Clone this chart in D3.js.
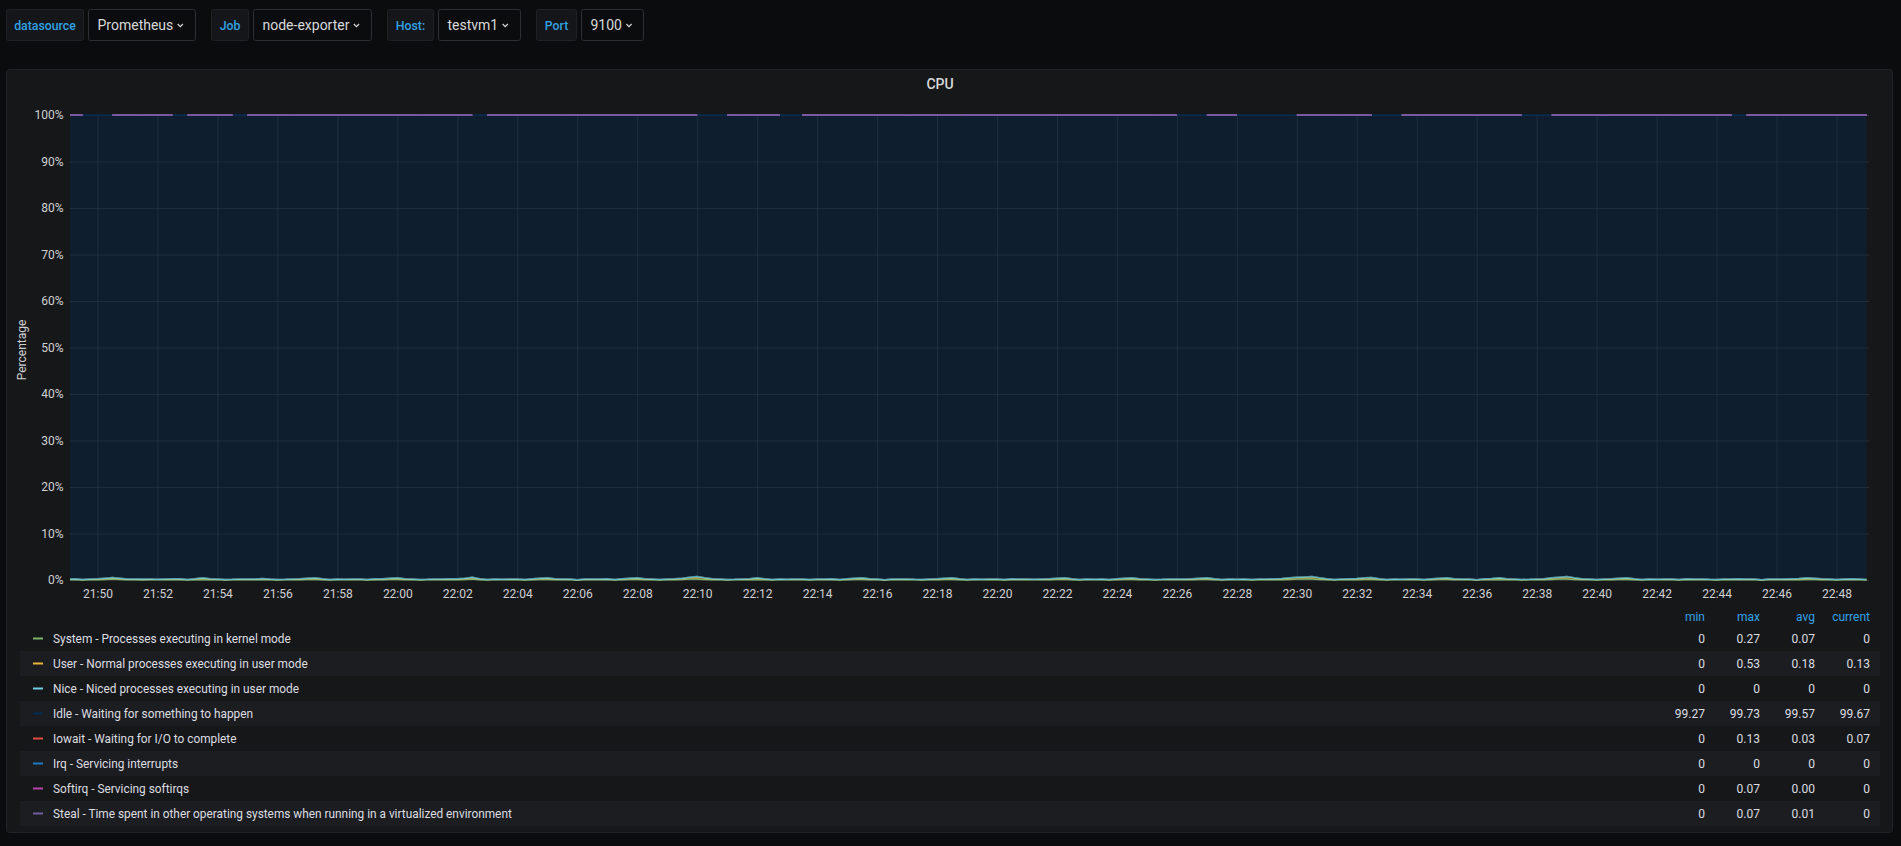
<!DOCTYPE html>
<html><head><meta charset="utf-8">
<script src="https://cdn.jsdelivr.net/npm/d3@7"></script>
<style>
html,body{margin:0;padding:0;background:#0b0c0e;overflow:hidden}
svg{display:block;font-family:Roboto,"Helvetica Neue",Arial,sans-serif}
</style></head><body>
<svg id="c" width="1901" height="846"></svg>
<script>
const n = null;
// ---- data ----
const panelTitle = "CPU";
const yAxisLabel = "Percentage";
const variableLabels = ["datasource", "Job", "Host:", "Port"];
const variableValues = ["Prometheus", "node-exporter", "testvm1", "9100"];
const startTime = "21:49:00";
const stepSeconds = 15;
const rangeStart = "21:49:05";
const rangeEnd = "22:49:05";
const xTickLabels = ["21:50","21:52","21:54","21:56","21:58","22:00","22:02","22:04","22:06","22:08","22:10","22:12","22:14","22:16","22:18","22:20","22:22","22:24","22:26","22:28","22:30","22:32","22:34","22:36","22:38","22:40","22:42","22:44","22:46","22:48"];
const yTicks = [0,10,20,30,40,50,60,70,80,90,100];
const seriesNames = [
  "System - Processes executing in kernel mode",
  "User - Normal processes executing in user mode",
  "Nice - Niced processes executing in user mode",
  "Idle - Waiting for something to happen",
  "Iowait - Waiting for I/O to complete",
  "Irq - Servicing interrupts",
  "Softirq - Servicing softirqs",
  "Steal - Time spent in other operating systems when running in a virtualized environment"
];
const seriesColors = ["#7EB26D","#EAB839","#6ED0E0","#052B51","#E24D42","#1F78C1","#BA43A9","#705DA0"];
const statHeaders = ["min","max","avg","current"];
const statMin = ["0","0","0","99.27","0","0","0","0"];
const statMax = ["0.27","0.53","0","99.73","0.13","0","0.07","0.07"];
const statAvg = ["0.07","0.18","0","99.57","0.03","0","0.00","0.01"];
const statCurrent = ["0","0.13","0","99.67","0.07","0","0","0"];

const system = [
0.07,0.07,0,0.07,0.07,0.13,0.2,0.13,0.07,0.07,0,0.07,0.07,0.07,0.13,0.07,0,0.07,0.13,0.07,
0.07,0,0.07,0.07,0.07,0.07,0.13,0.07,0,0.07,0.07,0.07,0.13,0.13,0.07,0,0.07,0.07,0.07,0.07,
0,0.07,0.07,0.13,0.13,0.07,0.07,0,0.07,0.07,0.07,0.07,0.07,0.13,0.2,0.07,0,0.07,0.07,0.07,
0.07,0,0.07,0.13,0.13,0.07,0.07,0.07,0,0.07,0.07,0.07,0.07,0,0.07,0.13,0.13,0.07,0.07,0,
0.07,0.07,0.13,0.2,0.2,0.13,0.07,0.07,0,0.07,0.07,0.07,0.13,0.07,0,0.07,0.07,0.07,0.07,0,
0.07,0.07,0.07,0,0.07,0.13,0.13,0.07,0.07,0,0.07,0.07,0.07,0.07,0,0.07,0.07,0.13,0.13,0.07,
0,0.07,0.07,0.07,0.07,0,0.07,0.07,0.07,0.07,0.07,0.07,0.13,0.13,0.07,0,0.07,0.07,0.07,0,
0.07,0.13,0.13,0.07,0.07,0,0.07,0.07,0.07,0.07,0.07,0.13,0.13,0.07,0,0.07,0.07,0.07,0,0.07,
0.07,0.07,0.07,0.13,0.2,0.2,0.2,0.13,0.07,0,0.07,0.07,0.07,0.13,0.13,0.07,0,0.07,0.07,0.07,
0.07,0,0.07,0.13,0.13,0.07,0.07,0.07,0,0.07,0.07,0.13,0.07,0.07,0,0.07,0.07,0.07,0.13,0.2,
0.2,0.13,0.07,0.07,0,0.07,0.07,0.13,0.13,0.07,0,0.07,0.07,0.07,0.07,0,0.07,0.07,0.07,0.07,
0,0.07,0.07,0.07,0.07,0.07,0,0.07,0.07,0.07,0.07,0.07,0.13,0.13,0.07,0.07,0,0.07,0.07,0.07,
0];
const user = [
0.13,0.2,0.13,0.13,0.2,0.27,0.33,0.27,0.13,0.13,0.2,0.13,0.07,0.13,0.13,0.2,0.13,0.2,0.33,0.2,
0.13,0.13,0.07,0.13,0.13,0.13,0.2,0.13,0.13,0.07,0.13,0.2,0.27,0.33,0.2,0.13,0.13,0.07,0.13,0.13,
0.13,0.2,0.2,0.27,0.33,0.2,0.13,0.13,0.07,0.13,0.13,0.2,0.2,0.27,0.4,0.2,0.13,0.13,0.07,0.13,
0.13,0.13,0.2,0.27,0.33,0.2,0.13,0.13,0.07,0.13,0.13,0.13,0.2,0.13,0.2,0.27,0.33,0.2,0.13,0.13,
0.13,0.2,0.27,0.4,0.53,0.33,0.2,0.13,0.13,0.07,0.13,0.2,0.33,0.2,0.13,0.13,0.07,0.13,0.13,0.13,
0.13,0.13,0.2,0.13,0.2,0.27,0.33,0.2,0.13,0.07,0.13,0.13,0.13,0.07,0.13,0.13,0.2,0.27,0.33,0.2,
0.13,0.13,0.07,0.13,0.13,0.13,0.2,0.13,0.13,0.07,0.13,0.2,0.27,0.33,0.2,0.13,0.13,0.07,0.13,0.13,
0.2,0.27,0.33,0.2,0.13,0.13,0.07,0.13,0.13,0.13,0.2,0.27,0.33,0.2,0.13,0.13,0.07,0.13,0.13,0.13,
0.13,0.2,0.27,0.33,0.4,0.47,0.53,0.33,0.2,0.13,0.13,0.2,0.27,0.33,0.4,0.2,0.13,0.13,0.07,0.13,
0.13,0.13,0.2,0.27,0.33,0.2,0.13,0.13,0.07,0.2,0.27,0.33,0.2,0.13,0.13,0.07,0.13,0.2,0.33,0.4,
0.53,0.33,0.2,0.13,0.13,0.13,0.2,0.27,0.33,0.2,0.13,0.13,0.07,0.13,0.13,0.13,0.2,0.13,0.13,0.07,
0.13,0.13,0.13,0.2,0.13,0.13,0.07,0.13,0.13,0.13,0.2,0.27,0.33,0.27,0.2,0.13,0.13,0.13,0.2,0.13,
0.13];
const nice = [
0,0,0,0,0,0,0,0,0,0,0,0,0,0,0,0,0,0,0,0,
0,0,0,0,0,0,0,0,0,0,0,0,0,0,0,0,0,0,0,0,
0,0,0,0,0,0,0,0,0,0,0,0,0,0,0,0,0,0,0,0,
0,0,0,0,0,0,0,0,0,0,0,0,0,0,0,0,0,0,0,0,
0,0,0,0,0,0,0,0,0,0,0,0,0,0,0,0,0,0,0,0,
0,0,0,0,0,0,0,0,0,0,0,0,0,0,0,0,0,0,0,0,
0,0,0,0,0,0,0,0,0,0,0,0,0,0,0,0,0,0,0,0,
0,0,0,0,0,0,0,0,0,0,0,0,0,0,0,0,0,0,0,0,
0,0,0,0,0,0,0,0,0,0,0,0,0,0,0,0,0,0,0,0,
0,0,0,0,0,0,0,0,0,0,0,0,0,0,0,0,0,0,0,0,
0,0,0,0,0,0,0,0,0,0,0,0,0,0,0,0,0,0,0,0,
0,0,0,0,0,0,0,0,0,0,0,0,0,0,0,0,0,0,0,0,
0];
const idle = [
99.8,99.66,99.87,99.8,99.73,99.6,99.4,99.47,99.8,99.8,99.66,99.8,99.86,99.73,99.74,99.73,99.87,99.73,99.47,99.73,
99.73,99.87,99.86,99.8,99.8,99.8,99.6,99.8,99.8,99.86,99.73,99.66,99.6,99.47,99.66,99.87,99.8,99.79,99.8,99.8,
99.8,99.73,99.66,99.6,99.54,99.66,99.8,99.8,99.79,99.8,99.73,99.73,99.73,99.53,99.27,99.73,99.87,99.73,99.86,99.73,
99.8,99.87,99.66,99.6,99.47,99.73,99.73,99.73,99.93,99.8,99.73,99.8,99.66,99.87,99.73,99.53,99.54,99.66,99.8,99.87,
99.73,99.73,99.6,99.33,99.27,99.54,99.73,99.8,99.8,99.86,99.73,99.66,99.54,99.66,99.87,99.8,99.86,99.8,99.8,99.8,
99.8,99.73,99.73,99.87,99.66,99.6,99.47,99.73,99.8,99.86,99.8,99.8,99.66,99.86,99.8,99.8,99.73,99.53,99.54,99.73,
99.73,99.8,99.86,99.73,99.8,99.8,99.73,99.8,99.73,99.86,99.73,99.66,99.6,99.47,99.73,99.87,99.73,99.86,99.73,99.87,
99.73,99.53,99.54,99.66,99.8,99.8,99.79,99.8,99.8,99.8,99.73,99.6,99.54,99.73,99.8,99.8,99.86,99.8,99.87,99.8,
99.8,99.73,99.66,99.54,99.33,99.33,99.27,99.54,99.73,99.8,99.73,99.73,99.59,99.54,99.4,99.73,99.87,99.8,99.86,99.8,
99.73,99.87,99.73,99.53,99.54,99.66,99.8,99.8,99.79,99.73,99.66,99.47,99.73,99.73,99.87,99.86,99.8,99.73,99.54,99.33,
99.27,99.54,99.66,99.8,99.87,99.66,99.73,99.53,99.54,99.73,99.8,99.8,99.86,99.73,99.8,99.73,99.73,99.8,99.73,99.86,
99.87,99.73,99.8,99.73,99.73,99.8,99.86,99.8,99.8,99.73,99.66,99.66,99.47,99.6,99.66,99.8,99.87,99.73,99.73,99.8,
99.8];
const iowait = [
0,0.07,0,n,n,n,0.07,0.13,0,0,0.07,0,0,0.07,0,n,0,0,0.07,0,
0.07,0,0,n,0,0,0.07,0,0.07,0,0,0.07,0,0.07,0.07,0,0,0.07,0,0,
0.07,0,0.07,0,0,0.07,0,0,0.07,0,0.07,0,0,0.07,0.13,n,0,0.07,0,0.07,
0,0,0.07,0,0.07,0,0,0.07,0,0,0.07,0,0.07,0,0,0.07,0,0.07,0,0,
0.07,0,0,0.07,0,n,n,n,0.07,0,0,0.07,0,0.07,0,0,n,n,0,0.07,
0,0.07,0,0,0.07,0,0.07,0,0,0.07,0,0,0.07,0,0.07,0,0,0.07,0,0,
0.07,0,0,0.07,0,0.07,0,0,0.07,0,0,0.07,0,0.07,0,0,0.07,0,0.07,0,
0,0.07,0,0.07,0,0,0.07,0,0,n,n,n,0,0,0.07,0,0,n,n,n,
n,n,n,n,0.07,0,0,0,0,0.07,0,0,0.07,0,0.07,n,n,n,0,0,
0.07,0,0,0.07,0,0.07,0,0,0.07,0,0,0.07,0,0.07,0,n,n,n,0,0.07,
0,0,0.07,0,0,0.07,0,0.07,0,0,0.07,0,0,0.07,0,0.07,0,0,0.07,0,
0,0.07,0,n,0.07,0,0.07,0,0,0.07,0,0,0.07,0,0.07,0,0,0.07,0,0,
0.07];
const irq = [
0,0,0,n,n,n,0,0,0,0,0,0,0,0,0,n,0,0,0,0,
0,0,0,n,0,0,0,0,0,0,0,0,0,0,0,0,0,0,0,0,
0,0,0,0,0,0,0,0,0,0,0,0,0,0,0,n,0,0,0,0,
0,0,0,0,0,0,0,0,0,0,0,0,0,0,0,0,0,0,0,0,
0,0,0,0,0,n,n,n,0,0,0,0,0,0,0,0,n,n,0,0,
0,0,0,0,0,0,0,0,0,0,0,0,0,0,0,0,0,0,0,0,
0,0,0,0,0,0,0,0,0,0,0,0,0,0,0,0,0,0,0,0,
0,0,0,0,0,0,0,0,0,n,n,n,0,0,0,0,0,n,n,n,
n,n,n,n,0,0,0,0,0,0,0,0,0,0,0,n,n,n,0,0,
0,0,0,0,0,0,0,0,0,0,0,0,0,0,0,n,n,n,0,0,
0,0,0,0,0,0,0,0,0,0,0,0,0,0,0,0,0,0,0,0,
0,0,0,n,0,0,0,0,0,0,0,0,0,0,0,0,0,0,0,0,
0];
const softirq = [
0,0,0,n,n,n,0,0,0,0,0,0,0,0,0,n,0,0,0,0,
0,0,0,n,0,0,0,0,0,0,0,0,0,0,0,0,0,0,0,0,
0,0,0,0,0,0,0,0,0,0,0,0,0,0,0,n,0,0,0,0,
0,0,0,0,0,0,0,0,0,0,0,0,0,0,0,0,0,0,0,0,
0,0,0,0,0,n,n,n,0,0,0,0,0,0,0,0,n,n,0,0,
0,0,0,0,0,0,0,0,0,0,0,0,0,0,0,0,0,0,0,0,
0.07,0,0,0,0,0,0,0,0,0,0,0,0,0,0,0,0,0,0,0,
0,0,0,0,0,0,0,0,0,n,n,n,0,0,0,0,0,n,n,n,
n,n,n,n,0,0,0,0,0,0,0,0,0,0,0,n,n,n,0,0,
0,0,0,0,0,0,0,0,0,0,0,0,0,0,0,n,n,n,0,0,
0,0,0,0,0,0,0,0,0,0,0,0,0,0,0,0,0,0,0,0,
0,0,0,n,0,0,0,0,0,0,0,0,0,0,0,0,0,0,0,0,
0];
const steal = [
0,0,0,n,n,n,0,0,0,0,0.07,0,0,0,0,n,0,0,0,0,
0,0,0,n,0,0,0,0,0,0,0.07,0,0,0,0,0,0,0,0,0,
0,0,0,0,0,0,0,0.07,0,0,0,0,0,0,0,n,0,0,0,0,
0,0,0,0,0,0,0.07,0,0,0,0,0,0,0,0,0,0,0,0,0,
0,0,0,0,0,n,n,n,0,0,0.07,0,0,0,0,0,n,n,0,0,
0,0,0,0,0,0,0,0,0,0,0,0,0.07,0,0,0,0,0,0,0,
0,0,0,0,0,0,0,0,0,0,0.07,0,0,0,0,0,0,0,0,0,
0,0,0,0,0,0.07,0,0,0,n,n,n,0,0,0,0,0,n,n,n,
n,n,n,n,0,0,0,0,0,0,0.07,0,0,0,0,n,n,n,0,0,
0,0,0,0,0,0,0,0,0.07,0,0,0,0,0,0,n,n,n,0,0,
0,0,0,0,0,0.07,0,0,0,0,0,0,0,0,0,0.07,0,0,0,0,
0,0,0,n,0,0,0,0,0,0,0.07,0,0,0,0,0,0,0,0,0,
0];
const seriesValues = [system, user, nice, idle, iowait, irq, softirq, steal];

// ---- layout ----
const svg = d3.select("#c");
const parse = d3.timeParse("%H:%M:%S");
const parseHM = d3.timeParse("%H:%M");
const t0 = parse(startTime);
const times = system.map((_, i) => d3.timeSecond.offset(t0, i * stepSeconds));

// top variable bar
const varLabelBoxes = [[6.5, 77], [211.5, 37], [387.5, 46], [536.5, 40]];
const varValueBoxes = [[88.5, 107], [253.5, 118], [438.5, 82], [581.5, 62]];
const vb = svg.append("g");
variableLabels.forEach((lab, i) => {
  const [lx, lw] = varLabelBoxes[i];
  vb.append("rect").attr("x", lx).attr("y", 9.5).attr("width", lw).attr("height", 31)
    .attr("rx", 2).attr("fill", "#141619").attr("stroke", "#1e2125");
  vb.append("text").attr("x", lx + lw / 2).attr("y", 29.5).attr("text-anchor", "middle")
    .attr("fill", "#33a2e5").attr("font-size", 12.3).attr("font-weight", 500).text(lab);
  const [dx, dw] = varValueBoxes[i];
  vb.append("rect").attr("x", dx).attr("y", 9.5).attr("width", dw).attr("height", 31)
    .attr("rx", 2).attr("fill", "#0b0c0e").attr("stroke", "#2c2f34");
  const t = vb.append("text").attr("x", dx + 9).attr("y", 30).attr("fill", "#d8d9da")
    .attr("font-size", 14).text(variableValues[i]);
  const tw = t.node().getComputedTextLength();
  const cx = dx + 9 + tw + 7;
  vb.append("path").attr("d", `M${cx - 2.6},${24} L${cx},${26.6} L${cx + 2.6},${24}`)
    .attr("fill", "none").attr("stroke", "#d8d9da").attr("stroke-width", 1.2);
});

// panel
svg.append("rect").attr("x", 6.5).attr("y", 69.5).attr("width", 1886).attr("height", 763)
  .attr("rx", 3).attr("fill", "#161719").attr("stroke", "#202226");
svg.append("text").attr("x", 940).attr("y", 89).attr("text-anchor", "middle")
  .attr("fill", "#d8d9da").attr("font-size", 14).attr("font-weight", 500).text(panelTitle);

const pl = 70, pr = 1869, pt = 115, pb = 580;
const x = d3.scaleTime().domain([parse(rangeStart), parse(rangeEnd)]).range([pl, pr]);
const y = d3.scaleLinear().domain([0, 100]).range([pb, pt]);

// grid + axes
const gx = svg.append("g").attr("transform", `translate(0,${pb})`)
  .call(d3.axisBottom(x).tickValues(xTickLabels.map(parseHM).map(d => {
      const r = new Date(t0); r.setHours(d.getHours(), d.getMinutes(), 0, 0); return r; }))
    .tickSize(-(pb - pt)).tickPadding(9).tickFormat(d3.timeFormat("%H:%M")));
gx.select(".domain").remove();
gx.selectAll("line").attr("stroke", "rgba(200,205,215,0.13)");
gx.selectAll("text").attr("fill", "#d0d1d3").attr("font-size", 12).attr("font-family", "Roboto");

const gy = svg.append("g").attr("transform", `translate(${pl},0)`)
  .call(d3.axisLeft(y).tickValues(yTicks).tickSize(-(pr - pl)).tickPadding(6.5).tickFormat(d => d + "%"));
gy.select(".domain").remove();
gy.selectAll("line").attr("stroke", "rgba(200,205,215,0.13)");
gy.selectAll("text").attr("fill", "#d0d1d3").attr("font-size", 12).attr("font-family", "Roboto");

svg.append("text").attr("transform", "translate(22,350) rotate(-90)").attr("text-anchor", "middle")
  .attr("dominant-baseline", "central").attr("fill", "#d0d1d3").attr("font-size", 12).text(yAxisLabel);

// stacked series
svg.append("clipPath").attr("id", "clip").append("rect")
  .attr("x", pl).attr("y", pt - 4).attr("width", pr - pl).attr("height", pb - pt + 6);
const plot = svg.append("g").attr("clip-path", "url(#clip)");
const cum = times.map(() => 0);
seriesValues.forEach((vals, k) => {
  const pts = vals.map((v, i) => {
    const lo = cum[i];
    const hi = v == null ? lo : lo + v;
    cum[i] = hi;
    return { t: times[i], lo, hi, ok: v != null };
  });
  const area = d3.area().defined(d => d.ok).x(d => x(d.t)).y0(d => y(d.lo)).y1(d => y(d.hi));
  const line = d3.line().defined(d => d.ok).x(d => x(d.t)).y(d => y(d.hi));
  plot.append("path").attr("d", area(pts)).attr("fill", seriesColors[k]).attr("fill-opacity", 0.4);
  plot.append("path").attr("d", line(pts)).attr("fill", "none").attr("stroke", seriesColors[k])
    .attr("stroke-width", 1.5).attr("stroke-linejoin", "round");
});

// legend table
const lg = svg.append("g");
const colRight = [1705, 1760, 1815, 1870];
statHeaders.forEach((h, j) => {
  lg.append("text").attr("x", colRight[j]).attr("y", 620.5).attr("text-anchor", "end")
    .attr("fill", "#33a2e5").attr("font-size", 12).text(h);
});
const stats = [statMin, statMax, statAvg, statCurrent];
seriesNames.forEach((name, i) => {
  const top = 626 + 25 * i;
  if (i % 2 === 1) lg.append("rect").attr("x", 20).attr("y", top).attr("width", 1860).attr("height", 25).attr("fill", "#1c1d21");
  const cy = top + 12.5;
  lg.append("line").attr("x1", 33).attr("x2", 43).attr("y1", cy).attr("y2", cy)
    .attr("stroke", seriesColors[i]).attr("stroke-width", 2);
  lg.append("text").attr("x", 53).attr("y", cy + 4.3).attr("fill", "#dcdde0").attr("font-size", 11.85).text(name);
  stats.forEach((s, j) => {
    lg.append("text").attr("x", colRight[j]).attr("y", cy + 4.3).attr("text-anchor", "end")
      .attr("fill", "#dcdde0").attr("font-size", 12).text(s[i]);
  });
});
</script>
</body></html>
